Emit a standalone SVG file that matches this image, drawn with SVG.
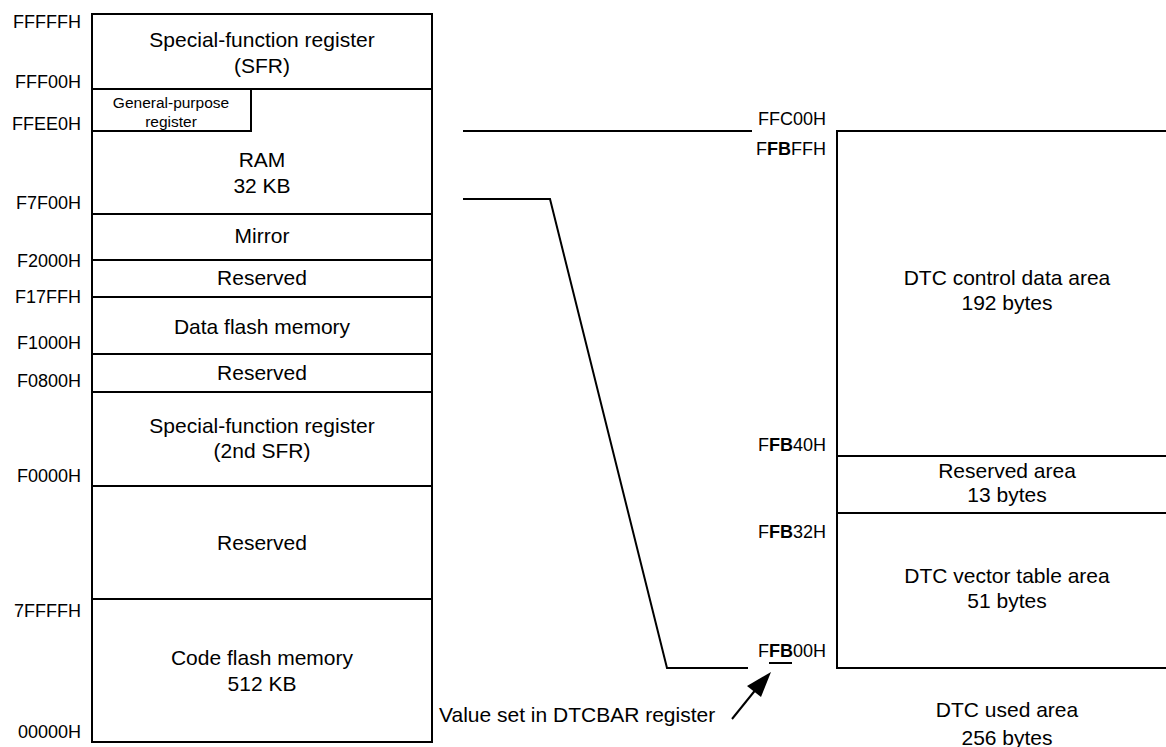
<svg xmlns="http://www.w3.org/2000/svg" width="1166" height="747" viewBox="0 0 1166 747">
<style>
text{font-family:"Liberation Sans",Arial,sans-serif;fill:#000}
.m{font-size:21px;text-anchor:middle}
.a{font-size:18px;text-anchor:end}
.s{font-size:15.5px;text-anchor:middle}
.b{font-weight:bold}
.ln{stroke:#000;stroke-width:2;fill:none}
</style>
<rect width="1166" height="747" fill="#fff"/>
<g id="memory-map">
<rect class="ln" x="92" y="14" width="340" height="728"/>
<g id="sfr"><line class="ln" x1="92" y1="89" x2="432" y2="89"/>
<text class="m" x="262" y="47">Special-function register</text><text class="m" x="262" y="73">(SFR)</text></g>
<g id="gpr"><polyline class="ln" points="251,89 251,131 92,131"/>
<text class="s" x="171" y="108">General-purpose</text><text class="s" x="171" y="127">register</text></g>
<g id="ram"><text class="m" x="262" y="167">RAM</text><text class="m" x="262" y="193">32 KB</text>
<line class="ln" x1="92" y1="214" x2="432" y2="214"/></g>
<g id="mirror"><text class="m" x="262" y="243">Mirror</text><line class="ln" x1="92" y1="260" x2="432" y2="260"/></g>
<g id="reserved1"><text class="m" x="262" y="285">Reserved</text><line class="ln" x1="92" y1="297" x2="432" y2="297"/></g>
<g id="dataflash"><text class="m" x="262" y="334">Data flash memory</text><line class="ln" x1="92" y1="354" x2="432" y2="354"/></g>
<g id="reserved2"><text class="m" x="262" y="380">Reserved</text><line class="ln" x1="92" y1="392" x2="432" y2="392"/></g>
<g id="sfr2"><text class="m" x="262" y="433">Special-function register</text><text class="m" x="262" y="458">(2nd SFR)</text>
<line class="ln" x1="92" y1="486" x2="432" y2="486"/></g>
<g id="reserved3"><text class="m" x="262" y="550">Reserved</text><line class="ln" x1="92" y1="599" x2="432" y2="599"/></g>
<g id="codeflash"><text class="m" x="262" y="665">Code flash memory</text><text class="m" x="262" y="691">512 KB</text></g>
</g>
<g id="addresses-left">
<text class="a" x="81" y="28">FFFFFH</text>
<text class="a" x="81" y="88">FFF00H</text>
<text class="a" x="81" y="130">FFEE0H</text>
<text class="a" x="81" y="209">F7F00H</text>
<text class="a" x="81" y="267">F2000H</text>
<text class="a" x="81" y="303">F17FFH</text>
<text class="a" x="81" y="349">F1000H</text>
<text class="a" x="81" y="387">F0800H</text>
<text class="a" x="81" y="482">F0000H</text>
<text class="a" x="81" y="617">7FFFFH</text>
<text class="a" x="81" y="738">00000H</text>
</g>
<g id="dtc-area">
<path class="ln" d="M1170,131 H837 V668 H1170 M837,456 H1170 M837,513 H1170"/>
<g id="dtc-control"><text class="m" x="1007" y="285">DTC control data area</text><text class="m" x="1007" y="310">192 bytes</text></g>
<g id="dtc-reserved"><text class="m" x="1007" y="478">Reserved area</text><text class="m" x="1007" y="502">13 bytes</text></g>
<g id="dtc-vector"><text class="m" x="1007" y="583">DTC vector table area</text><text class="m" x="1007" y="608">51 bytes</text></g>
<g id="dtc-used"><text class="m" x="1007" y="717">DTC used area</text><text class="m" x="1007" y="745">256 bytes</text></g>
</g>
<g id="addresses-right">
<text class="a" x="826" y="125">FFC00H</text>
<text class="a" x="826" y="155">F<tspan class="b">FB</tspan>FFH</text>
<text class="a" x="826" y="451">F<tspan class="b">FB</tspan>40H</text>
<text class="a" x="826" y="538">F<tspan class="b">FB</tspan>32H</text>
<text class="a" x="826" y="657">F<tspan class="b">FB</tspan>00H</text>
<line class="ln" x1="769" y1="663" x2="792" y2="663"/>
</g>
<g id="connectors">
<line class="ln" x1="463" y1="131" x2="752" y2="131"/>
<polyline class="ln" points="463,199 550,199 667,668 748,668"/>
<line class="ln" x1="732" y1="719" x2="757" y2="688"/>
<polygon points="771,672 761,697 747,686" fill="#000"/>
</g>
<text x="439" y="722" style="font-size:21px">Value set in DTCBAR register</text>
</svg>
